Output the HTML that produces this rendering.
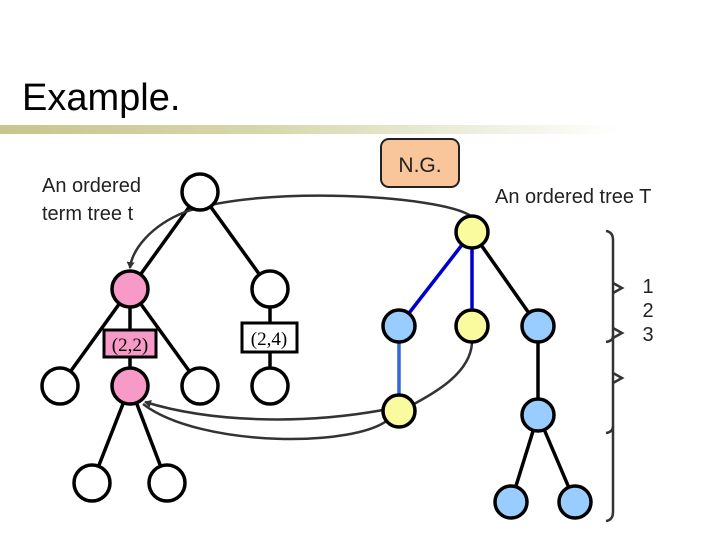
<!DOCTYPE html>
<html><head><meta charset="utf-8"><style>
body{margin:0;width:720px;height:540px;overflow:hidden;background:#fff}
svg text{font-family:"Liberation Sans",sans-serif}
</style></head><body>
<svg width="720" height="540" viewBox="0 0 720 540" xmlns="http://www.w3.org/2000/svg">
<defs>
<linearGradient id="g" x1="0" x2="1"><stop offset="0" stop-color="#c6c68e"/><stop offset="0.45" stop-color="#d8d8b0"/><stop offset="1" stop-color="#fff"/></linearGradient>
<marker id="a" markerWidth="8" markerHeight="8" refX="6" refY="4" orient="auto" markerUnits="userSpaceOnUse"><path d="M0,0 L7,4 L0,8 z" fill="#333"/></marker>
</defs>
<text x="22" y="110" font-size="38">Example.</text>
<rect x="0" y="125" width="620" height="9" fill="url(#g)"/>
<rect x="381" y="139" width="78" height="48" rx="8" fill="#f9c59a" stroke="#222" stroke-width="2"/>
<text x="420" y="172" font-size="21" text-anchor="middle" fill="#222">N.G.</text>
<text x="42" y="192" font-size="20" fill="#222">An ordered</text>
<text x="42" y="220" font-size="20" fill="#222">term tree t</text>
<text x="495" y="203" font-size="20" fill="#222">An ordered tree T</text>
<!-- left tree edges -->
<g stroke="#000" stroke-width="3.5" fill="none">
<line x1="200" y1="192" x2="130" y2="289"/><line x1="200" y1="192" x2="270" y2="289"/>
<line x1="130" y1="289" x2="60" y2="386"/><line x1="130" y1="289" x2="130" y2="386"/><line x1="130" y1="289" x2="200" y2="386"/>
<line x1="270" y1="289" x2="270" y2="386"/>
<line x1="130" y1="386" x2="92" y2="483"/><line x1="130" y1="386" x2="167" y2="483"/>
</g>
<!-- right tree edges -->
<g stroke-width="3.5" fill="none">
<line x1="472" y1="232" x2="399" y2="326" stroke="#0000cc"/>
<line x1="472" y1="232" x2="472" y2="326" stroke="#0000cc"/>
<line x1="472" y1="232" x2="538" y2="326" stroke="#000"/>
<line x1="399" y1="326" x2="399" y2="411" stroke="#3366dd"/>
<line x1="538" y1="326" x2="538" y2="415" stroke="#000"/>
<line x1="538" y1="415" x2="511" y2="502" stroke="#000"/>
<line x1="538" y1="415" x2="575" y2="502" stroke="#000"/>
</g>
<!-- curves -->
<g stroke="#333" stroke-width="2.5" fill="none">
<path d="M471,216 C440,195 260,185 185,212 C150,226 132,250 130,268" marker-end="url(#a)"/>
<path d="M472,343 C470,375 430,395 414,404"/>
<path d="M383,410 C300,425 210,422 145,402" marker-end="url(#a)"/>
<path d="M390,418 C360,448 200,448 143,404"/>
<path d="M606,231 Q613,232 613,240 L613,512 Q613,520 606,521"/>
<path d="M606,342 Q613,341 613,336"/><path d="M606,433 Q613,432 613,426"/>
<path d="M613,283 L622,288 L613,293"/><path d="M613,328 L622,333 L613,338"/><path d="M613,373 L622,378 L613,383"/>
</g>
<text x="648" y="293" font-size="20" fill="#222" text-anchor="middle">1</text>
<text x="648" y="317" font-size="20" fill="#222" text-anchor="middle">2</text>
<text x="648" y="341" font-size="20" fill="#222" text-anchor="middle">3</text>
<!-- left nodes -->
<g stroke="#000" stroke-width="3.5">
<circle cx="200" cy="192" r="18" fill="#fff"/>
<circle cx="130" cy="289" r="18" fill="#f79ac8"/>
<circle cx="270" cy="289" r="18" fill="#fff"/>
<circle cx="60" cy="386" r="18" fill="#fff"/>
<circle cx="130" cy="386" r="18" fill="#f79ac8"/>
<circle cx="200" cy="386" r="18" fill="#fff"/>
<circle cx="270" cy="386" r="18" fill="#fff"/>
<circle cx="92" cy="483" r="18" fill="#fff"/>
<circle cx="167" cy="483" r="18" fill="#fff"/>
</g>
<rect x="104" y="330" width="52" height="27" fill="#f79ac8" stroke="#000" stroke-width="3"/>
<text x="130" y="351" font-size="19" font-family="Liberation Serif" text-anchor="middle" style="font-family:'Liberation Serif',serif">(2,2)</text>
<rect x="242" y="323" width="55" height="29" fill="#fff" stroke="#000" stroke-width="3"/>
<text x="269" y="345" font-size="19" text-anchor="middle" style="font-family:'Liberation Serif',serif">(2,4)</text>
<!-- right nodes -->
<g stroke="#000" stroke-width="3.5">
<circle cx="472" cy="232" r="16" fill="#fafa9e"/>
<circle cx="399" cy="326" r="16" fill="#99ccff"/>
<circle cx="472" cy="326" r="16" fill="#fafa9e"/>
<circle cx="538" cy="326" r="16" fill="#99ccff"/>
<circle cx="399" cy="411" r="16" fill="#fafa9e"/>
<circle cx="538" cy="415" r="16" fill="#99ccff"/>
<circle cx="511" cy="502" r="16" fill="#99ccff"/>
<circle cx="575" cy="502" r="16" fill="#99ccff"/>
</g>
</svg>
</body></html>
